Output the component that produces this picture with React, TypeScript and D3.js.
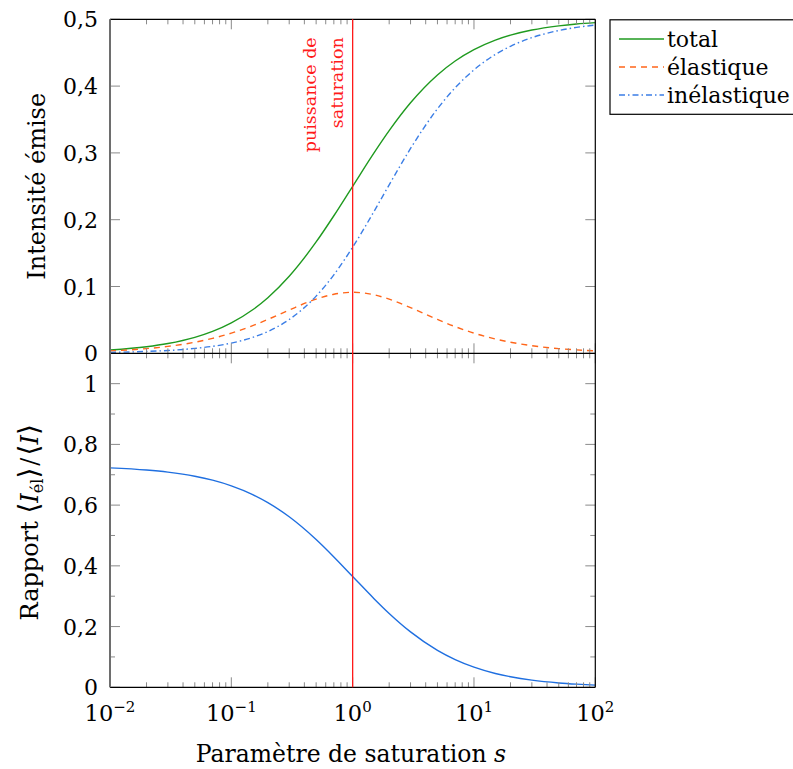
import React from 'react';
import * as d3 from 'd3';

// ---- data ----
const sValues = [0.01, 0.02, 0.03, 0.05, 0.07, 0.1, 0.15, 0.2, 0.3, 0.5, 0.7, 1, 1.5, 2, 3, 5, 7, 10, 15, 20, 30, 50, 70, 100];
const totalValues = [0.0050, 0.0098, 0.0146, 0.0238, 0.0327, 0.0455, 0.0652, 0.0833, 0.1154, 0.1667, 0.2059, 0.25, 0.30, 0.3333, 0.375, 0.4167, 0.4375, 0.4545, 0.4688, 0.4762, 0.4839, 0.4902, 0.4930, 0.4950];
const elasticValues = [0.0036, 0.0070, 0.0103, 0.0166, 0.0223, 0.0302, 0.0414, 0.0507, 0.0648, 0.0811, 0.0884, 0.0913, 0.0876, 0.0811, 0.0684, 0.0507, 0.0399, 0.0302, 0.0214, 0.0166, 0.0114, 0.0070, 0.0051, 0.0036];
const inelasticValues = [0.0014, 0.0028, 0.0042, 0.0073, 0.0104, 0.0153, 0.0238, 0.0326, 0.0506, 0.0856, 0.1175, 0.1588, 0.2124, 0.2522, 0.3066, 0.3660, 0.3976, 0.4243, 0.4474, 0.4596, 0.4725, 0.4832, 0.4879, 0.4914];
const ratioValues = [0.7228, 0.7157, 0.7087, 0.6952, 0.6822, 0.6636, 0.6348, 0.6083, 0.5615, 0.4867, 0.4294, 0.365, 0.292, 0.2433, 0.1825, 0.1217, 0.0913, 0.0664, 0.0456, 0.0348, 0.0235, 0.0143, 0.0103, 0.0072];

const topYTicks = [0, 0.1, 0.2, 0.3, 0.4, 0.5];
const topYTickLabels = ['0', '0,1', '0,2', '0,3', '0,4', '0,5'];
const bottomYTicks = [0, 0.2, 0.4, 0.6, 0.8, 1];
const bottomYTickLabels = ['0', '0,2', '0,4', '0,6', '0,8', '1'];
const bottomYMinorTicks = [0.1, 0.3, 0.5, 0.7, 0.9];
const xMajorTicks = [0.01, 0.1, 1, 10, 100];
const xMajorExponents = ['−2', '−1', '0', '1', '2'];
const legendLabels = ['total', 'élastique', 'inélastique'];
const saturationValue = 1;

const W = 793;
const H = 769;
const left = 110;
const right = 595.3;
const top = 19.3;
const mid = 353.3;
const bottom = 687.3;

const FONT = "'DejaVu Serif', 'Liberation Serif', serif";
const BRACKET_FONT = "'DejaVu Sans', sans-serif";
const GREEN = '#1f9a1f';
const ORANGE = '#ff661a';
const BLUE_DD = '#3b7ee6';
const BLUE = '#1f6fe0';
const RED = '#ff1a1a';
const TICK = '#8a8a8a';

export default function App() {
  const x = d3.scaleLog().domain([0.01, 100]).range([left, right]);
  const yTop = d3.scaleLinear().domain([0, 0.5]).range([mid, top]);
  const yBot = d3.scaleLinear().domain([0, 1.1]).range([bottom, mid]);

  const mk = (vals: number[], y: d3.ScaleLinear<number, number>) =>
    d3.line<number>()
      .x((_, i) => x(sValues[i]))
      .y((d) => y(d))
      .curve(d3.curveMonotoneX)(vals) as string;

  const xTicksAll = x.ticks();
  const isMajor = (v: number) => xMajorTicks.some((m) => Math.abs(m - v) / m < 1e-6);

  const xTickMarks: JSX.Element[] = [];
  xTicksAll.forEach((v, i) => {
    const px = x(v);
    const len = isMajor(v) ? 10 : 5;
    xTickMarks.push(<line key={'a' + i} x1={px} x2={px} y1={top} y2={top + len} stroke={TICK} strokeWidth={1} />);
    xTickMarks.push(<line key={'b' + i} x1={px} x2={px} y1={mid} y2={mid - len} stroke={TICK} strokeWidth={1} />);
    xTickMarks.push(<line key={'c' + i} x1={px} x2={px} y1={mid} y2={mid + len} stroke={TICK} strokeWidth={1} />);
    xTickMarks.push(<line key={'d' + i} x1={px} x2={px} y1={bottom} y2={bottom - len} stroke={TICK} strokeWidth={1} />);
  });

  const yTickMarks: JSX.Element[] = [];
  topYTicks.forEach((v, i) => {
    const py = yTop(v);
    yTickMarks.push(<line key={'tl' + i} x1={left} x2={left + 10} y1={py} y2={py} stroke={TICK} strokeWidth={1} />);
    yTickMarks.push(<line key={'tr' + i} x1={right} x2={right - 10} y1={py} y2={py} stroke={TICK} strokeWidth={1} />);
  });
  bottomYTicks.forEach((v, i) => {
    const py = yBot(v);
    yTickMarks.push(<line key={'bl' + i} x1={left} x2={left + 10} y1={py} y2={py} stroke={TICK} strokeWidth={1} />);
    yTickMarks.push(<line key={'br' + i} x1={right} x2={right - 10} y1={py} y2={py} stroke={TICK} strokeWidth={1} />);
  });
  bottomYMinorTicks.forEach((v, i) => {
    const py = yBot(v);
    yTickMarks.push(<line key={'ml' + i} x1={left} x2={left + 5} y1={py} y2={py} stroke={TICK} strokeWidth={1} />);
    yTickMarks.push(<line key={'mr' + i} x1={right} x2={right - 5} y1={py} y2={py} stroke={TICK} strokeWidth={1} />);
  });

  const legendStyles = [
    { color: GREEN, dash: undefined as string | undefined },
    { color: ORANGE, dash: '6 5' },
    { color: BLUE_DD, dash: '6 3 1.5 3' },
  ];

  const redX = x(saturationValue);

  return (
    <svg width={W} height={H} style={{ position: 'absolute', left: 0, top: 0, background: '#fff' }} fontFamily={FONT}>
      <rect x={0} y={0} width={W} height={H} fill="#fff" />

      <path d={mk(totalValues, yTop)} fill="none" stroke={GREEN} strokeWidth={1.4} />
      <path d={mk(elasticValues, yTop)} fill="none" stroke={ORANGE} strokeWidth={1.4} strokeDasharray="6 5" />
      <path d={mk(inelasticValues, yTop)} fill="none" stroke={BLUE_DD} strokeWidth={1.4} strokeDasharray="6 3 1.5 3" />
      <path d={mk(ratioValues, yBot)} fill="none" stroke={BLUE} strokeWidth={1.4} />

      {xTickMarks}
      {yTickMarks}

      <line x1={left} x2={right} y1={top} y2={top} stroke="#000" strokeWidth={1.2} />
      <line x1={left} x2={right} y1={mid} y2={mid} stroke="#000" strokeWidth={1.2} />
      <line x1={left} x2={right} y1={bottom} y2={bottom} stroke="#000" strokeWidth={1.2} />
      <line x1={right} x2={right} y1={top} y2={bottom} stroke="#000" strokeWidth={1.2} />
      <line x1={left} x2={left} y1={top} y2={bottom} stroke="#6e6e6e" strokeWidth={2} />

      <line x1={redX} x2={redX} y1={top} y2={bottom} stroke={RED} strokeWidth={1.3} />
      <text transform={`translate(${redX - 37},${top + 18}) rotate(-90)`} textAnchor="end" fontSize={17.5} fill={RED}>
        puissance de
      </text>
      <text transform={`translate(${redX - 10},${top + 18}) rotate(-90)`} textAnchor="end" fontSize={17.5} fill={RED}>
        saturation
      </text>

      {topYTicks.map((v, i) => (
        <text key={'tyl' + i} x={98} y={yTop(v) + 8} textAnchor="end" fontSize={22}>{topYTickLabels[i]}</text>
      ))}
      {bottomYTicks.map((v, i) => (
        <text key={'byl' + i} x={98} y={yBot(v) + 8} textAnchor="end" fontSize={22}>{bottomYTickLabels[i]}</text>
      ))}

      {xMajorTicks.map((v, i) => (
        <text key={'xl' + i} x={x(v)} y={721} textAnchor="middle" fontSize={22.5}>
          10<tspan fontSize={15} dy={-9}>{xMajorExponents[i]}</tspan>
        </text>
      ))}

      <text x={351} y={762} textAnchor="middle" fontSize={23.5}>
        Paramètre de saturation <tspan fontStyle="italic">s</tspan>
      </text>
      <text transform={`translate(45,${(top + mid) / 2}) rotate(-90)`} textAnchor="middle" fontSize={24}>
        Intensité émise
      </text>
      <text transform={`translate(38,${(mid + bottom) / 2 + 2}) rotate(-90)`} textAnchor="middle" fontSize={24}>
        Rapport <tspan fontFamily={BRACKET_FONT} fontSize={28}>⟨</tspan><tspan fontStyle="italic">I</tspan><tspan fontSize={16} dy={5}>él</tspan><tspan fontFamily={BRACKET_FONT} fontSize={28} dy={-5}>⟩</tspan><tspan dx={2}>/</tspan><tspan fontFamily={BRACKET_FONT} fontSize={28} dx={2}>⟨</tspan><tspan fontStyle="italic">I</tspan><tspan fontFamily={BRACKET_FONT} fontSize={28}>⟩</tspan>
      </text>

      <rect x={610} y={19.8} width={190} height={94.5} fill="#fff" stroke="#000" strokeWidth={1.2} />
      {legendLabels.map((lab, i) => {
        const ly = 39 + i * 28;
        return (
          <g key={'lg' + i}>
            <line x1={619} x2={664} y1={ly} y2={ly} stroke={legendStyles[i].color} strokeWidth={1.4} strokeDasharray={legendStyles[i].dash} />
            <text x={667} y={ly + 7.5} fontSize={22}>{lab}</text>
          </g>
        );
      })}
    </svg>
  );
}
